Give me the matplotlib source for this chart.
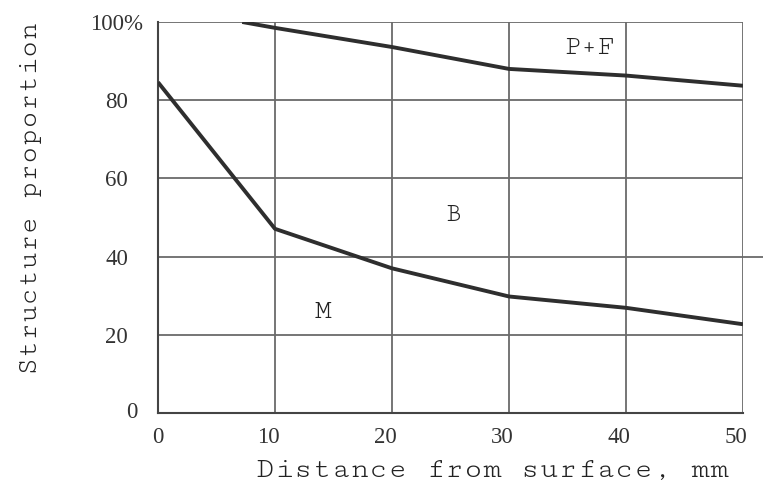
import matplotlib
matplotlib.use("Agg")
import matplotlib.pyplot as plt
from matplotlib.transforms import ScaledTranslation

# boundary curves
pf_x = [7.2, 10, 20, 30, 40, 50]
pf_y = [100, 98.5, 93.6, 88.0, 86.3, 83.7]
m_x = [0, 10, 20, 30, 40, 50]
m_y = [84.6, 47.1, 37.0, 29.8, 26.9, 22.7]

x_ticks = [0, 10, 20, 30, 40, 50]
y_ticks = [0, 20, 40, 60, 80, 100]
y_labels = ["0", "20", "40", "60", "80", "100%"]

zones = ["P+F", "B", "M"]
zone_x = [36.9, 25.2, 14.1]
zone_y = [93.3, 50.6, 25.6]

mono = ["Cutive Mono", "Liberation Serif", "DejaVu Serif"]
serif = ["Liberation Serif", "DejaVu Serif"]
plt.rcParams["font.family"] = mono

fig = plt.figure(figsize=(7.63, 5.03), dpi=100)
ax = fig.add_axes([158 / 763, 90 / 503, 585 / 763, 391 / 503])

grid_c = "#6a6a6a"
for x in x_ticks[1:]:
    ax.plot([x, x], [0, 100], color=grid_c, lw=1.3, zorder=1)
for y in y_ticks[1:]:
    ax.plot([0, 50], [y, y], color=grid_c, lw=1.3, zorder=1)
# the 40% line runs out past the frame in the original
ax.plot([50, 51.8], [40, 40], color=grid_c, lw=1.3, clip_on=False, zorder=1)

ax.plot(pf_x, pf_y, color="#2e2e2e", lw=2.8, zorder=3, solid_capstyle="butt")
ax.plot(m_x, m_y, color="#2e2e2e", lw=2.8, zorder=3, solid_capstyle="butt")

for t, x, y in zip(zones, zone_x, zone_y):
    ax.text(x, y, t, ha="center", va="center", fontsize=20, color="#222222")

ax.set_xlim(0, 50)
ax.set_ylim(0, 100)
for s in ["top", "right"]:
    ax.spines[s].set_visible(False)
for s in ["left", "bottom"]:
    ax.spines[s].set_color("#444444")
    ax.spines[s].set_linewidth(1.5)

ax.set_xticks(x_ticks)
ax.set_yticks(y_ticks)
ax.set_yticklabels(y_labels)
ax.tick_params(length=0, labelsize=16.5, colors="#333333", labelfontfamily=serif)
ax.tick_params(axis="x", pad=10)
ax.tick_params(axis="y", pad=21.5)

px = lambda dx, dy: ScaledTranslation(dx / 100, dy / 100, fig.dpi_scale_trans)
# tick labels in the original are not quite centred on their grid lines
for lab in ax.get_xticklabels()[1:]:
    lab.set_transform(lab.get_transform() + px(-7, 0))
ylab = ax.get_yticklabels()
ylab[-1].set_transform(ylab[-1].get_transform() + px(15, 0))
ylab[0].set_transform(ylab[0].get_transform() + px(9, 3))

ax.set_xlabel("Distance from surface, mm", fontsize=22.5, color="#222222")
ax.xaxis.set_label_coords((492 - 158) / 585, (413 - 470) / 391)
ax.xaxis.label.set_va("center")
ax.set_ylabel("Structure proportion", fontsize=21, color="#222222")
ax.yaxis.set_label_coords((31 - 158) / 585, (413 - 198) / 391)
ax.yaxis.label.set_va("center")

fig.savefig("out.png", dpi=100)
